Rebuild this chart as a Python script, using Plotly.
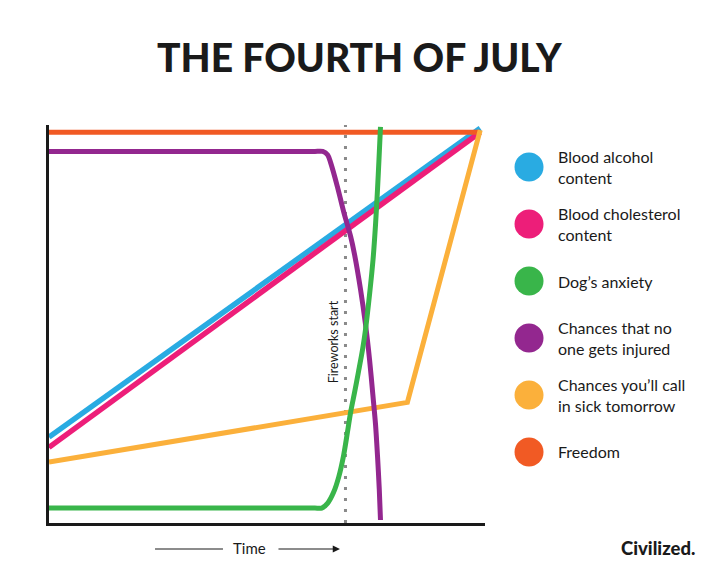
import plotly.graph_objects as go

# ---------------- data ----------------
series_names = [
    "Blood alcohol<br>content",
    "Blood cholesterol<br>content",
    "Dog\u2019s anxiety",
    "Chances that no<br>one gets injured",
    "Chances you\u2019ll call<br>in sick tomorrow",
    "Freedom",
]
series_colors = ["#29ABE2", "#ED1E79", "#39B54A", "#93278F", "#FBB03B", "#F15A24"]

alcohol_x = [0, 98.9]
alcohol_y = [21.6, 99.2]

cholesterol_x = [0, 98.9]
cholesterol_y = [19.0, 98.2]

anxiety_x = [0, 30, 50, 58, 61, 62.56, 63.93, 65.30, 66.44, 67.58, 68.49, 69.18, 70.09, 71.00,
             71.92, 72.60, 73.52, 74.32, 74.89, 75.34, 75.68, 76.03]
anxiety_y = [3.76, 3.76, 3.76, 3.76, 3.76, 3.76, 5.01, 7.77, 11.53, 17.04, 23.06, 27.82, 32.83, 38.10,
             43.61, 48.62, 57.39, 66.17, 74.94, 83.71, 91.23, 99.50]

no_injury_x = [0, 30, 50, 58, 61, 62.79, 63.93, 64.61, 66.14, 67.65, 69.18, 70.09, 71.46, 72.60,
               73.52, 74.27, 74.89, 75.35, 75.75, 76.03]
no_injury_y = [93.36, 93.36, 93.36, 93.36, 93.36, 93.36, 92.48, 90.48, 84.54, 77.94, 72.01, 67.42,
               58.65, 49.87, 41.10, 32.33, 24.81, 16.79, 8.52, 0.75]

sick_x = [0, 82.2, 98.9]
sick_y = [15.3, 30.3, 98.7]

freedom_x = [0, 98.9]
freedom_y = [98.2, 98.2]

fireworks_time = 68.0
fireworks_label = "Fireworks start"

title_text = "THE FOURTH OF JULY"
xlabel_text = "Time"
brand_text = "Civilized."

# ---------------- figure ----------------
FONT = "Lato"
TXT = "#1a1a1a"

fig = go.Figure()

# dotted fireworks line
fig.add_trace(go.Scatter(
    x=[fireworks_time, fireworks_time], y=[0, 100], mode="lines",
    line=dict(color="#8a8a8a", width=3, dash="3px,8px"),
    hoverinfo="skip", showlegend=False))

lines = [
    (alcohol_x, alcohol_y, 0, "linear", 5.5),
    (cholesterol_x, cholesterol_y, 1, "linear", 5.5),
    (freedom_x, freedom_y, 5, "linear", 5),
    (sick_x, sick_y, 4, "linear", 5),
    (no_injury_x, no_injury_y, 3, "spline", 5),
    (anxiety_x, anxiety_y, 2, "spline", 5),
]
for xs, ys, idx, shape, w in lines:
    fig.add_trace(go.Scatter(
        x=xs, y=ys, mode="lines",
        line=dict(color=series_colors[idx], width=w, shape=shape, smoothing=0.8),
        name=series_names[idx].replace("<br>", " "),
        showlegend=False))

# legend markers on a separate axis
idxs = list(range(len(series_names)))
fig.add_trace(go.Scatter(
    x=[0] * len(idxs), y=idxs, mode="markers",
    marker=dict(size=29, color=series_colors, line=dict(width=0)),
    xaxis="x2", yaxis="y2", hoverinfo="skip", showlegend=False))

annotations = []
for i, name in enumerate(series_names):
    annotations.append(dict(
        x=1, y=i, xref="x2", yref="y2", text=name, showarrow=False,
        xanchor="left", yanchor="middle", align="left",
        font=dict(family=FONT, size=16, color=TXT)))

# fireworks label
annotations.append(dict(
    x=65.3, y=45.6, xref="x", yref="y", text=fireworks_label, showarrow=False,
    textangle=-90, xanchor="center", yanchor="middle",
    font=dict(family=FONT, size=12.5, color=TXT)))

# title
annotations.append(dict(
    x=0.4705, y=1.1709, xref="paper", yref="paper", text=title_text,
    showarrow=False, xanchor="center", yanchor="middle",
    font=dict(family=FONT, size=39, color=TXT, weight=900)))

# time label
annotations.append(dict(
    x=0.3026, y=-0.0628, xref="paper", yref="paper", text=xlabel_text,
    showarrow=False, xanchor="center", yanchor="middle",
    font=dict(family=FONT, size=15, color=TXT)))

# time arrow
annotations.append(dict(
    x=0.4402, y=-0.0653, xref="paper", yref="paper",
    ax=-63, ay=0, axref="pixel", ayref="pixel",
    text="", showarrow=True, arrowhead=2, arrowsize=1.2, arrowwidth=1.2,
    arrowcolor=TXT))

# brand
annotations.append(dict(
    x=0.9803, y=-0.0628, xref="paper", yref="paper", text=brand_text,
    showarrow=False, xanchor="right", yanchor="middle",
    font=dict(family=FONT, size=18.5, color=TXT, weight=900)))

shapes = [dict(type="line", xref="paper", yref="paper",
               x0=0.1604, x1=0.2632, y0=-0.0653, y1=-0.0653,
               line=dict(color=TXT, width=1.2))]

fig.update_layout(
    width=712, height=568,
    margin=dict(l=41, r=10, t=117, b=53),
    paper_bgcolor="white", plot_bgcolor="white",
    showlegend=False,
    xaxis=dict(domain=[0, 0.6596], range=[0, 100], showgrid=False, zeroline=False,
               showticklabels=False, ticks="", showline=True, linewidth=3,
               linecolor=TXT, fixedrange=True),
    yaxis=dict(range=[0, 100], showgrid=False, zeroline=False,
               showticklabels=False, ticks="", showline=True, linewidth=3,
               linecolor=TXT, fixedrange=True),
    xaxis2=dict(domain=[0.7, 1.0], range=[-0.641, 6.70], visible=False,
                anchor="y2", fixedrange=True),
    yaxis2=dict(domain=[0, 1], range=[6.246, -0.737], visible=False,
                anchor="x2", fixedrange=True),
    annotations=annotations,
    shapes=shapes,
)

fig.write_html("out.html")
